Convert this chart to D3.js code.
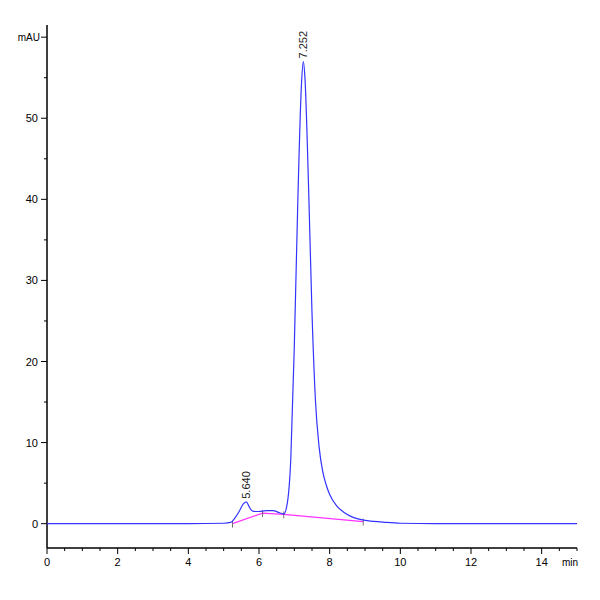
<!DOCTYPE html>
<html><head><meta charset="utf-8">
<script src="https://cdn.jsdelivr.net/npm/d3@7"></script>
<style>body{margin:0;background:#fff}text{font-family:"Liberation Sans Narrow","Liberation Sans",Arial,sans-serif}</style>
</head><body>
<svg id="c" width="600" height="600"></svg>
<script>
// chromatogram trace (min, mAU)
const times = [0,1,2,3,4,5,5.2,5.3,5.45,5.55,5.64,5.72,5.8,5.9,6.0,6.2,6.4,6.55,6.7,6.8,6.9,7.0,7.1,7.2,7.252,7.3,7.4,7.5,7.6,7.7,7.8,7.9,8.0,8.2,8.4,8.6,8.8,9.0,9.5,10,11,12,13,14,15];
const signal = [0,0,0,0,0,0.05,0.15,0.6,1.6,2.4,2.7,2.1,1.6,1.5,1.5,1.6,1.6,1.4,1.2,2.5,8,22,40,54,57,55,42,26,15,9.5,6.5,4.8,3.6,2.2,1.4,0.9,0.6,0.4,0.2,0.05,0,0,0,0,0];
// integration baseline
const baseT = [5.25,6.1,6.7,8.95];
const baseV = [0,1.3,1.15,0.25];
const peakT = [5.640,7.252];
const peakV = [2.7,57];
const xTicks = [0,2,4,6,8,10,12,14];
const yTicks = [0,10,20,30,40,50];

const svg = d3.select("#c");
const x = d3.scaleLinear().domain([0,15]).range([47,577]);
const y = d3.scaleLinear().domain([-3,61.5]).range([548,25]);

// x axis
const xa = svg.append("g").attr("transform","translate(0,548)");
xa.append("line").attr("x1",47).attr("x2",577).attr("stroke","#000").attr("stroke-width",1.5);
xa.selectAll(".mn").data(d3.range(0,15.01,0.5)).join("line")
  .attr("x1",d=>x(d)).attr("x2",d=>x(d)).attr("y1",0).attr("y2",d=>d%2===0?6:3).attr("stroke","#000");
xa.selectAll("text").data(xTicks).join("text").attr("x",d=>x(d)).attr("y",18)
  .attr("text-anchor","middle").attr("font-size",11).text(d=>d);
xa.append("text").attr("x",570).attr("y",18).attr("text-anchor","middle").attr("font-size",10).text("min");

// y axis
const ya = svg.append("g");
ya.append("line").attr("x1",47).attr("x2",47).attr("y1",25).attr("y2",548).attr("stroke","#000").attr("stroke-width",1.5);
ya.selectAll(".mn").data(d3.range(-5,60.1,5).filter(d=>y(d)<=548)).join("line")
  .attr("x1",d=>d%10===0?41:44).attr("x2",47).attr("y1",d=>y(d)).attr("y2",d=>y(d)).attr("stroke","#000");
ya.selectAll("text").data(yTicks).join("text").attr("x",38).attr("y",d=>y(d)+4)
  .attr("text-anchor","end").attr("font-size",11).text(d=>d);
ya.append("text").attr("x",40).attr("y",y(60)+4).attr("text-anchor","end").attr("font-size",10).text("mAU");

const line = d3.line().x(d=>x(d[0])).y(d=>y(d[1])).curve(d3.curveMonotoneX);
svg.append("path").datum(baseT.map((t,i)=>[t,baseV[i]])).attr("d",d3.line().x(d=>x(d[0])).y(d=>y(d[1])))
  .attr("fill","none").attr("stroke","#ff33ff").attr("stroke-width",1.2);
svg.selectAll(".bt").data(baseT).join("line").attr("x1",d=>x(d)).attr("x2",d=>x(d))
  .attr("y1",(d,i)=>y(baseV[i])-3).attr("y2",(d,i)=>y(baseV[i])+4).attr("stroke","#555").attr("stroke-width",0.8);
svg.append("path").datum(times.map((t,i)=>[t,signal[i]])).attr("d",line)
  .attr("fill","none").attr("stroke","#3333ff").attr("stroke-width",1.2);

svg.selectAll(".pl").data(peakT).join("text")
  .attr("transform",(d,i)=>`translate(${x(d)+4},${y(peakV[i])-3}) rotate(-90)`)
  .attr("font-size",11).attr("fill","#222").text(d=>d.toFixed(3));
</script>
</body></html>
